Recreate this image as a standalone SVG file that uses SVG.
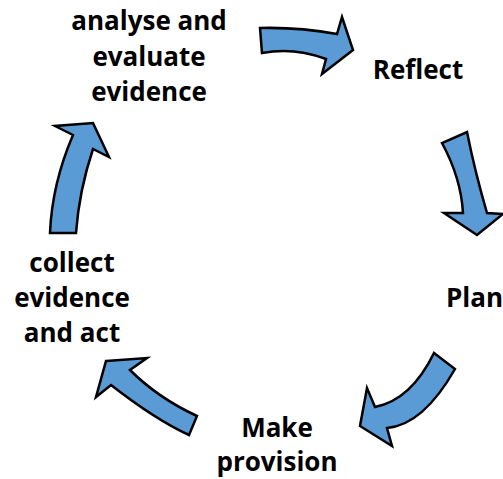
<svg xmlns="http://www.w3.org/2000/svg" width="503" height="479" viewBox="0 0 503 479">
<style>
.a{fill:#5B9BD5;stroke:#000;stroke-width:2.5;stroke-linejoin:miter}
.t{font-family:"Open Sans","Liberation Sans",Arial,sans-serif;font-weight:bold;font-size:26px;fill:#000;text-anchor:middle}
</style>
<rect width="503" height="479" fill="#fff"/>
<g id="connectors">
<path class="a" d="M260,28 Q299,27 337,34 L342,17 L353,50 L322,74 L326,59 Q294,47 262,53 Z"/>
<path class="a" d="M442,143 Q461,178 463,213 L444,213 L477,235 L503,214 L487,213 Q475,172 467,132 Z"/>
<path class="a" d="M434,353 L455,369 Q423,425 387,428 L392,446 L360,426 L367,388 L375,407 Q411,400 434,353 Z"/>
<path class="a" d="M106,361 L147,358 L130,370 Q158,398 197,416 L189,435 Q156,420 111,385 L96,397 Z"/>
<path class="a" d="M50,233 Q52,184 73,135 L55,126 L93,123 L109,157 L93,149 Q79,191 76,233 Z"/>
</g>
<g id="analyse">
<text class="t" x="149" y="30">analyse and</text>
<text class="t" x="149" y="66">evaluate</text>
<text class="t" x="149" y="101">evidence</text>
</g>
<g id="reflect"><text class="t" x="418" y="79">Reflect</text></g>
<g id="plan"><text class="t" x="446" y="307" style="text-anchor:start">Plan</text></g>
<g id="make"><text class="t" x="277" y="437">Make</text><text class="t" x="277" y="471">provision</text></g>
<g id="collect">
<text class="t" x="72" y="272">collect</text>
<text class="t" x="72" y="307">evidence</text>
<text class="t" x="72" y="342">and act</text>
</g>
</svg>
